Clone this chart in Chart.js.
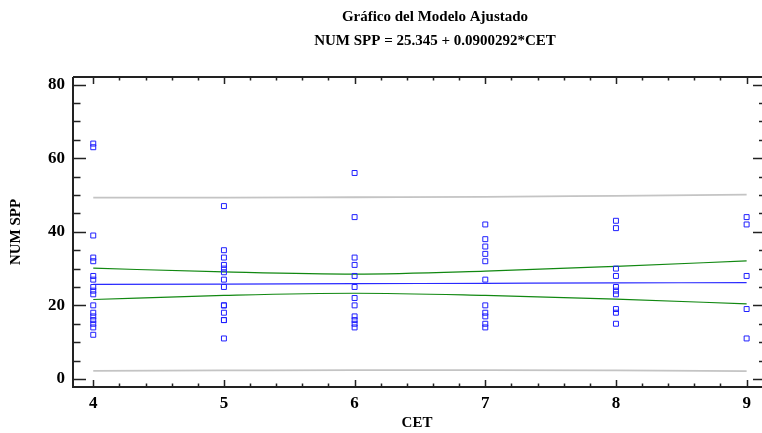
<!DOCTYPE html>
<html>
<head>
<meta charset="utf-8">
<script src="https://cdn.jsdelivr.net/npm/chart.js@4.4.0/dist/chart.umd.min.js"></script>
<style>
  html, body { margin: 0; padding: 0; background: #fff; }
</style>
</head>
<body>
<canvas id="chart" width="762" height="433"></canvas>
<script>
// observed NUM SPP values, grouped by CET
const cetValues = [4, 5, 6, 7, 8, 9];
const sppCet4 = [64, 63, 39, 33, 32, 28, 27, 25, 24, 23, 20, 18, 17, 16, 15, 14, 12];
const sppCet5 = [47, 35, 33, 31, 30, 29, 27, 25, 20, 20, 18, 16, 16, 11];
const sppCet6 = [56, 44, 33, 31, 28, 25, 22, 20, 17, 16, 15, 14];
const sppCet7 = [42, 38, 36, 34, 32, 27, 20, 18, 17, 15, 14];
const sppCet8 = [43, 41, 30, 28, 25, 24, 23, 19, 18, 15];
const sppCet9 = [44, 42, 28, 19, 11];

// fitted line and limits, read at each CET value
const fitted = [25.7, 25.8, 25.9, 26.0, 26.1, 26.2];
const confUpper = [30.1, 29.1, 28.5, 29.3, 30.6, 32.1];
const confLower = [21.6, 22.7, 23.3, 22.7, 21.7, 20.4];
const predUpper = [49.3, 49.3, 49.4, 49.5, 49.8, 50.1];
const predLower = [2.2, 2.3, 2.4, 2.4, 2.3, 2.1];

const xTickLabels = [4, 5, 6, 7, 8, 9];
const yTickLabels = [0, 20, 40, 60, 80];

const titleLines = ["Gráfico del Modelo Ajustado", "NUM SPP = 25.345 + 0.0900292*CET"];
const xTitle = "CET";
const yTitle = "NUM SPP";

const serif = "'Liberation Serif', 'Times New Roman', serif";

const groups = [sppCet4, sppCet5, sppCet6, sppCet7, sppCet8, sppCet9];
const points = [];
groups.forEach((vals, i) => {
  vals.forEach((v) => points.push({ x: cetValues[i], y: v }));
});

function curve(vals) {
  return vals.map((v, i) => ({ x: cetValues[i], y: v }));
}

function lineSet(vals, color, width, order) {
  return {
    type: "line",
    data: curve(vals),
    borderColor: color,
    borderWidth: width,
    pointRadius: 0,
    fill: false,
    cubicInterpolationMode: "monotone",
    order: order,
  };
}

// frame, inward ticks and titles
const framePlugin = {
  id: "frame",
  afterDraw(chart) {
    const { ctx, chartArea: a, scales } = chart;
    const xs = scales.x, ys = scales.y;
    ctx.save();
    ctx.strokeStyle = "#222";
    ctx.lineWidth = 2;
    ctx.beginPath();
    ctx.moveTo(a.left, a.top);
    ctx.lineTo(a.left, a.bottom);
    ctx.lineTo(a.right + 1, a.bottom);
    ctx.moveTo(a.left, a.top);
    ctx.lineTo(a.right + 1, a.top);
    ctx.stroke();

    ctx.lineWidth = 1.5;
    ctx.beginPath();
    for (let v = 0; v <= 80; v += 5) {
      const y = Math.round(ys.getPixelForValue(v)) + 0.5;
      const major = v % 20 === 0;
      ctx.moveTo(a.left, y);
      ctx.lineTo(a.left + (major ? 13 : 7.5), y);
      ctx.moveTo(a.right + 1, y);
      ctx.lineTo(a.right - (major ? 8 : 2), y);
    }
    for (let k = 20; k <= 45; k++) {
      const v = k / 5;
      const x = Math.round(xs.getPixelForValue(v)) + 0.5;
      const major = k % 5 === 0;
      ctx.moveTo(x, a.bottom);
      ctx.lineTo(x, a.bottom - (major ? 7 : 3.5));
      ctx.moveTo(x, a.top);
      ctx.lineTo(x, a.top + (major ? 7 : 3.5));
    }
    ctx.stroke();

    ctx.fillStyle = "#000";
    ctx.textAlign = "center";
    ctx.textBaseline = "middle";
    ctx.font = "bold 15px " + serif;
    const cx = (a.left + a.right) / 2 + 18;
    ctx.fillText(titleLines[0], cx, 17);
    ctx.fillText(titleLines[1], cx, 41);
    ctx.fillText(xTitle, (a.left + a.right) / 2, 423);
    ctx.translate(16, (a.top + a.bottom) / 2);
    ctx.rotate(-Math.PI / 2);
    ctx.fillText(yTitle, 0, 0);
    ctx.restore();
  },
};

const tickFont = { family: serif, size: 17, weight: "bold" };

new Chart(document.getElementById("chart"), {
  type: "scatter",
  data: {
    datasets: [
      {
        type: "scatter",
        data: points,
        pointStyle: "rect",
        pointRadius: 3.5,
        borderColor: "#1f1fff",
        backgroundColor: "rgba(0,0,0,0)",
        borderWidth: 1,
        order: 0,
      },
      lineSet(fitted, "#2a2aff", 1.2, 1),
      lineSet(confUpper, "#118811", 1.2, 2),
      lineSet(confLower, "#118811", 1.2, 2),
      lineSet(predUpper, "#c4c4c4", 1.8, 3),
      lineSet(predLower, "#c4c4c4", 1.8, 3),
    ],
  },
  options: {
    responsive: false,
    animation: false,
    layout: { autoPadding: false, padding: { top: 77, right: 1, left: 0, bottom: 0 } },
    plugins: {
      legend: { display: false },
      tooltip: { enabled: false },
      title: { display: false },
    },
    scales: {
      x: {
        type: "linear",
        min: 3.845,
        max: 9.11,
        afterBuildTicks: (s) => { s.ticks = xTickLabels.map((v) => ({ value: v })); },
        afterFit: (s) => { s.height = 46; s.paddingLeft = 0; s.paddingRight = 0; },
        grid: { display: false, drawTicks: false },
        border: { display: false },
        ticks: { font: tickFont, color: "#000", padding: 6, maxRotation: 0 },
      },
      y: {
        type: "linear",
        min: -2.2,
        max: 82.1,
        afterBuildTicks: (s) => { s.ticks = yTickLabels.map((v) => ({ value: v })); },
        afterFit: (s) => { s.width = 73; s.paddingTop = 0; s.paddingBottom = 0; },
        grid: { display: false, drawTicks: false },
        border: { display: false },
        ticks: { font: tickFont, color: "#000", padding: 8 },
      },
    },
  },
  plugins: [framePlugin],
});
</script>
</body>
</html>
